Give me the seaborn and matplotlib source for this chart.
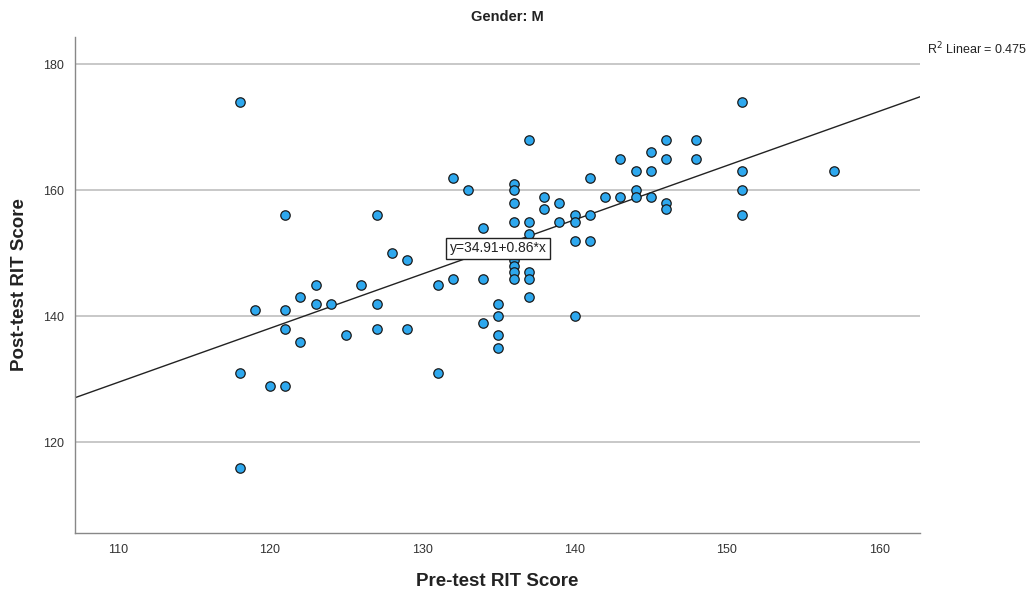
import numpy as np
import pandas as pd
import matplotlib
matplotlib.use("Agg")
import matplotlib.pyplot as plt
import seaborn as sns

# Data (Gender: M)
pre_test = [118, 118, 118, 119, 120, 121, 121, 121, 121, 122, 122, 123, 123, 124, 125, 126,
            127, 127, 127, 128, 129, 129, 131, 131, 132, 132, 133, 134, 134, 134,
            135, 135, 135, 135, 136, 136, 136, 136, 136, 136, 136, 136,
            137, 137, 137, 137, 137, 137, 138, 138, 139, 139, 140, 140, 140, 140,
            141, 141, 141, 142, 143, 143, 144, 144, 144, 145, 145, 145,
            146, 146, 146, 146, 148, 148, 151, 151, 151, 151, 157]
post_test = [174, 131, 116, 141, 129, 156, 141, 138, 129, 143, 136, 145, 142, 142, 137, 145,
             156, 142, 138, 150, 149, 138, 145, 131, 162, 146, 160, 154, 146, 139,
             142, 140, 137, 135, 161, 160, 158, 155, 149, 148, 147, 146,
             168, 155, 153, 147, 146, 143, 159, 157, 158, 155, 156, 155, 152, 140,
             162, 156, 152, 159, 165, 159, 163, 160, 159, 166, 163, 159,
             168, 165, 158, 157, 168, 165, 174, 163, 160, 156, 163]

fit_intercept = 34.91
fit_slope = 0.86
r_squared = 0.475

x_ticks = [110, 120, 130, 140, 150, 160]
y_ticks = [120, 140, 160, 180]

df = pd.DataFrame({"Pre-test RIT Score": pre_test, "Post-test RIT Score": post_test})

sns.set_style("white")
plt.rcParams["font.family"] = ["Liberation Sans", "DejaVu Sans"]

fig = plt.figure(figsize=(10.29, 5.93), dpi=100)
ax = fig.add_axes([0.0729, 0.1017, 0.8215, 0.836])

ax.set_xlim(107.2, 162.7)
ax.set_ylim(105.7, 184.3)

for yt in y_ticks:
    ax.axhline(yt, color="#c8c8c8", lw=1.4, zorder=0)

ax.axline((0, fit_intercept), slope=fit_slope, color="#222222", lw=1.0, zorder=2)

sns.scatterplot(data=df, x="Pre-test RIT Score", y="Post-test RIT Score", ax=ax,
                s=46, color="#2ea8ee", edgecolor="#1a1a1a", linewidth=0.9, zorder=3)

ax.set_xticks(x_ticks)
ax.set_yticks(y_ticks)
ax.tick_params(axis="both", length=0, labelsize=9, labelcolor="#333333", pad=8)

for side in ["top", "right"]:
    ax.spines[side].set_visible(False)
for side in ["left", "bottom"]:
    ax.spines[side].set_color("#888888")
    ax.spines[side].set_linewidth(1.0)

ax.set_xlabel("Pre-test RIT Score", fontsize=13.5, fontweight="bold", color="#222222")
ax.set_ylabel("Post-test RIT Score", fontsize=13.5, fontweight="bold", color="#222222")
ax.xaxis.set_label_coords(0.5, -0.081)
ax.yaxis.set_label_coords(-0.0556, 0.5)

fig.text(0.493, 0.972, "Gender: M", ha="center", va="center", fontsize=10.5,
         fontweight="bold", color="#222222")
fig.text(0.998, 0.918, r"R$^2$ Linear = 0.475", ha="right", va="center", fontsize=9,
         color="#222222")

ax.text(134.98, 150.8, "y=34.91+0.86*x", ha="center", va="center", fontsize=10,
        color="#222222", zorder=5,
        bbox=dict(boxstyle="square,pad=0.25", facecolor="white", edgecolor="#222222", lw=1.0))

fig.savefig("out.png", dpi=100)
